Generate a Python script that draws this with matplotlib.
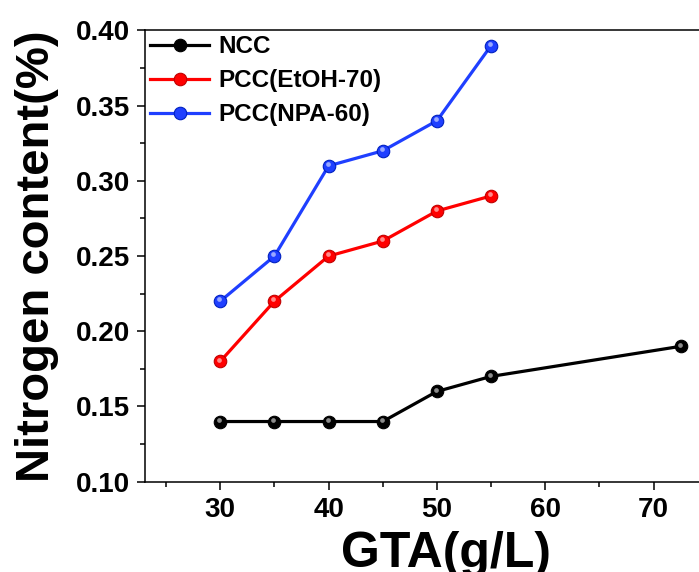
import matplotlib
matplotlib.use('Agg')
import matplotlib.pyplot as plt
from matplotlib.ticker import MultipleLocator, FormatStrFormatter
from matplotlib.transforms import offset_copy

plt.rcParams['font.family'] = ['Liberation Sans', 'DejaVu Sans']
plt.rcParams['font.weight'] = 'bold'

# GTA concentration (g/L) and nitrogen content (%)
gta_ncc = [30, 35, 40, 45, 50, 55, 72.5]
n_ncc = [0.14, 0.14, 0.14, 0.14, 0.16, 0.17, 0.19]
gta_pcc = [30, 35, 40, 45, 50, 55]
n_etoh = [0.18, 0.22, 0.25, 0.26, 0.28, 0.29]
n_npa = [0.22, 0.25, 0.31, 0.32, 0.34, 0.39]

labels = ['NCC', 'PCC(EtOH-70)', 'PCC(NPA-60)']
colors = ['#000000', '#ff0000', '#1f3fff']
edges = ['#000000', '#c00000', '#0020c0']

fig = plt.figure(figsize=(6.99, 5.72), dpi=100)
# the frame runs past the right edge of the image
ax = fig.add_axes([0.2074, 0.1579, 0.861, 0.7888])

series = [(gta_ncc, n_ncc), (gta_pcc, n_etoh), (gta_pcc, n_npa)]
for (x, y), lab, c, ec in zip(series, labels, colors, edges):
    ax.plot(x, y, '-o', color=c, lw=2.3, ms=9, mfc=c, mec=ec, mew=0.8,
            label=lab, zorder=3)
    # little shine spot on each ball
    shine = offset_copy(ax.transData, fig=fig, x=-0.8, y=1.3, units='points')
    ax.plot(x, y, 'o', ms=3.4, mfc='white', mec='none', alpha=0.55,
            transform=shine, zorder=4)

ax.set_xlim(23.05, 78.6)
ax.set_ylim(0.10, 0.40)
ax.xaxis.set_major_locator(MultipleLocator(10))
ax.xaxis.set_minor_locator(MultipleLocator(5))
ax.yaxis.set_major_locator(MultipleLocator(0.05))
ax.yaxis.set_minor_locator(MultipleLocator(0.025))
ax.yaxis.set_major_formatter(FormatStrFormatter('%.2f'))

for s in ax.spines.values():
    s.set_linewidth(1.1)
ax.tick_params(which='major', direction='out', length=6, width=1.1, labelsize=20, pad=5)
ax.tick_params(which='minor', direction='out', length=3.5, width=1.1)

ax.set_xlabel('GTA(g/L)', fontsize=36, fontweight='bold', labelpad=6)
ax.set_ylabel('Nitrogen content(%)', fontsize=34, fontweight='bold', labelpad=12)

leg = ax.legend(loc='upper left', bbox_to_anchor=(0.0, 1.0), frameon=False,
                fontsize=17.5, handlelength=2.45, handletextpad=0.37,
                labelspacing=0.45, borderaxespad=0.1, borderpad=0.1)

fig.savefig('out.png', dpi=100)
